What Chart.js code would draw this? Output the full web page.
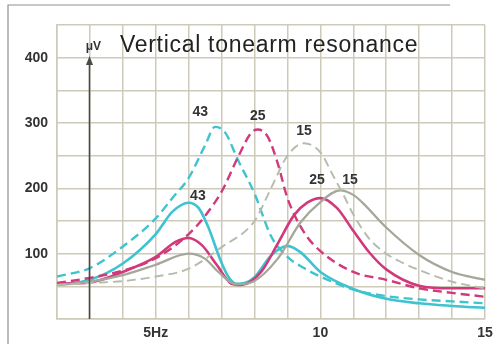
<!DOCTYPE html>
<html>
<head>
<meta charset="utf-8">
<script src="https://cdn.jsdelivr.net/npm/chart.js@4.4.0/dist/chart.umd.min.js"></script>
<style>
  html, body { margin: 0; padding: 0; background: #fff; }
</style>
</head>
<body>
<canvas id="resonanceChart" width="503" height="344"></canvas>
<script>
// values: frequency in Hz, amplitude in µV

// 43 - dashed / solid
const hz43Dash = [2, 3, 4, 5, 5.5, 6, 6.5, 6.8, 7.1, 7.5, 8, 8.5, 9, 9.5, 10, 11, 12, 13, 14, 15];
const uv43Dash = [65, 78, 111, 154, 185, 216, 266, 294, 286, 243, 192, 127, 95, 78, 65, 45, 35, 30, 27, 24];
const hz43Solid = [2, 3, 4, 5, 5.5, 6, 6.3, 6.6, 6.95, 7.2, 7.45, 7.7, 8, 8.5, 9, 9.4, 10, 11, 12, 13, 14, 15];
const uv43Solid = [52, 60, 85, 130, 164, 178, 170, 140, 92, 65, 54, 55, 64, 97, 112, 102, 72, 46, 31, 24, 20, 17];

// 25 - dashed / solid
const hz25Dash = [2, 3, 4, 5, 6, 6.5, 7, 7.5, 7.9, 8.1, 8.4, 8.7, 9, 9.5, 10, 11, 12, 13, 14, 15];
const uv25Dash = [55, 63, 74, 93, 130, 158, 195, 248, 285, 290, 279, 239, 185, 133, 104, 72, 60, 47, 40, 34];
const hz25Solid = [2, 3, 4, 5, 5.6, 6, 6.4, 6.85, 7.3, 7.6, 8.2, 8.7, 9.2, 9.6, 10, 10.5, 11, 11.5, 12, 13, 14, 15];
const uv25Solid = [54, 56, 72, 95, 118, 124, 113, 83, 54, 52, 72, 115, 159, 178, 185, 170, 135, 101, 76, 51, 47, 47];

// 15 - dashed / solid
const hz15Dash = [2, 3, 4, 5, 6, 7, 8, 8.5, 9, 9.5, 10, 10.4, 10.7, 11, 11.5, 12, 12.5, 13, 14, 15];
const uv15Dash = [52, 55, 58, 65, 77, 110, 150, 200, 250, 269, 255, 218, 190, 160, 122, 100, 86, 75, 57, 47];
const hz15Solid = [2, 3, 4, 5, 6, 6.5, 6.9, 7.45, 7.95, 8.7, 9.4, 10, 10.6, 11, 11.3, 12, 13, 14, 15];
const uv15Solid = [52, 57, 67, 83, 100, 92, 72, 53, 57, 92, 148, 179, 197, 190, 177, 140, 98, 72, 60];

// axis ticks
const xTickValues = [5, 10, 15];
const xTickText = ["5Hz", "10", "15"];
const yTickValues = [100, 200, 300, 400];

// curve labels
const labelText = ["43", "25", "15", "43", "25", "15"];
const labelHz = [6.35, 8.1, 9.5, 6.28, 9.9, 10.9];
const labelUv = [317, 311, 288, 188, 213, 213];

const cyan = "#3ec3cf";
const magenta = "#d1397a";
const graySolid = "#a5a79b";
const grayDash = "#b6bcab";
const gridColor = "#cdcab9";
const inkColor = "#333333";

function pts(xs, ys) {
  return xs.map((x, i) => ({ x: x, y: ys[i] }));
}

function curve(xs, ys, color, dashed, width) {
  return {
    data: pts(xs, ys),
    borderColor: color,
    borderWidth: width,
    borderDash: dashed ? [9, 5] : [],
    fill: false,
    pointRadius: 0,
    tension: 0.4,
    cubicInterpolationMode: "monotone",
  };
}

const decorations = {
  id: "decorations",
  afterDraw(chart) {
    const ctx = chart.ctx;
    const xs = chart.scales.x;
    const ys = chart.scales.y;
    const area = chart.chartArea;
    ctx.save();

    // page frame
    ctx.strokeStyle = "#8f8f88";
    ctx.lineWidth = 1.2;
    ctx.beginPath();
    ctx.moveTo(8, 344);
    ctx.lineTo(8, 5);
    ctx.lineTo(450, 5);
    ctx.stroke();

    // µV axis arrow
    const ax = Math.round(xs.getPixelForValue(3)) - 0.5;
    ctx.strokeStyle = "#4a4a44";
    ctx.fillStyle = "#4a4a44";
    ctx.lineWidth = 1.6;
    ctx.beginPath();
    ctx.moveTo(ax, area.bottom);
    ctx.lineTo(ax, 62);
    ctx.stroke();
    ctx.beginPath();
    ctx.moveTo(ax, 56);
    ctx.lineTo(ax - 3.5, 65);
    ctx.lineTo(ax + 3.5, 65);
    ctx.closePath();
    ctx.fill();

    // unit and title
    ctx.fillStyle = inkColor;
    ctx.textBaseline = "alphabetic";
    ctx.textAlign = "right";
    ctx.font = "bold 12px 'Liberation Sans', Arial, sans-serif";
    ctx.fillText("\u03bcV", 101, 50);
    ctx.textAlign = "left";
    ctx.fillStyle = "#222222";
    ctx.font = "23px 'Liberation Sans', Arial, sans-serif";
    ctx.letterSpacing = "0.7px";
    ctx.fillText("Vertical tonearm resonance", 120, 52);
    ctx.letterSpacing = "0px";

    // curve labels
    ctx.fillStyle = inkColor;
    ctx.textAlign = "center";
    ctx.textBaseline = "middle";
    ctx.font = "bold 14px 'Liberation Sans', Arial, sans-serif";
    labelText.forEach((t, i) => {
      ctx.fillText(t, xs.getPixelForValue(labelHz[i]), ys.getPixelForValue(labelUv[i]));
    });
    ctx.restore();
  },
};

new Chart(document.getElementById("resonanceChart").getContext("2d"), {
  type: "line",
  data: {
    datasets: [
      curve(hz15Dash, uv15Dash, grayDash, true, 1.9),
      curve(hz15Solid, uv15Solid, graySolid, false, 2.3),
      curve(hz25Dash, uv25Dash, magenta, true, 2.4),
      curve(hz25Solid, uv25Solid, magenta, false, 2.6),
      curve(hz43Dash, uv43Dash, cyan, true, 2.4),
      curve(hz43Solid, uv43Solid, cyan, false, 2.6),
    ],
  },
  options: {
    responsive: false,
    animation: false,
    layout: { padding: { top: 25, right: 18, left: 0, bottom: 0 } },
    plugins: {
      legend: { display: false },
      tooltip: { enabled: false },
    },
    scales: {
      x: {
        type: "linear",
        min: 2,
        max: 15,
        afterFit(scale) {
          scale.height = 25;
        },
        ticks: {
          stepSize: 1,
          autoSkip: false,
          maxRotation: 0,
          padding: 6,
          color: inkColor,
          font: { family: "'Liberation Sans', Arial, sans-serif", size: 14, weight: "bold" },
          callback: (v) => {
            const i = xTickValues.indexOf(v);
            return i >= 0 ? xTickText[i] : "";
          },
        },
        grid: { color: gridColor, lineWidth: 1.5, drawTicks: false },
        border: { color: gridColor, width: 1.5 },
      },
      y: {
        min: 0,
        max: 450,
        afterFit(scale) {
          scale.width = 57;
        },
        ticks: {
          stepSize: 50,
          padding: 9,
          color: inkColor,
          font: { family: "'Liberation Sans', Arial, sans-serif", size: 14, weight: "bold" },
          callback: (v) => (yTickValues.includes(v) ? String(v) : ""),
        },
        grid: { color: gridColor, lineWidth: 1.5, drawTicks: false },
        border: { color: gridColor, width: 1.5 },
      },
    },
  },
  plugins: [decorations],
});
</script>
</body>
</html>
